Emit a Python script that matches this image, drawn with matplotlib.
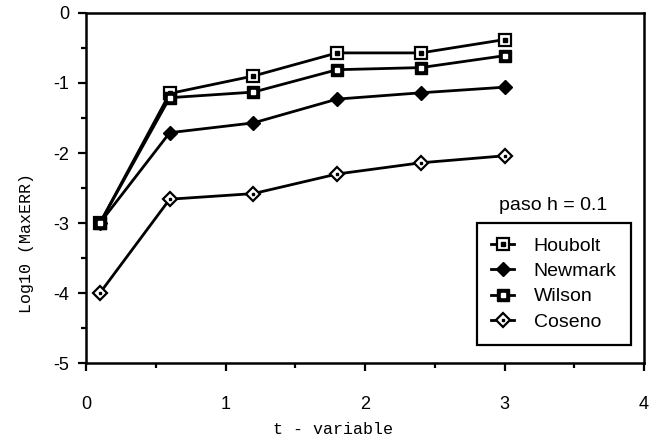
import matplotlib
matplotlib.use("Agg")
import matplotlib.pyplot as plt
from matplotlib.ticker import MultipleLocator

plt.rcParams["axes.unicode_minus"] = False

t = [0.1, 0.6, 1.2, 1.8, 2.4, 3.0]
houbolt = [-3.0, -1.15, -0.90, -0.57, -0.57, -0.38]
newmark = [-3.0, -1.71, -1.57, -1.23, -1.14, -1.06]
wilson = [-3.0, -1.21, -1.13, -0.81, -0.78, -0.61]
coseno = [-4.0, -2.66, -2.58, -2.30, -2.14, -2.04]
labels = ["Houbolt", "Newmark", "Wilson", "Coseno"]

sans = ["Liberation Sans", "DejaVu Sans"]
mono = ["Liberation Mono", "DejaVu Sans Mono"]

L, R, T, B = 86, 644, 13, 363
fig = plt.figure(figsize=(6.52, 4.44), dpi=100)
ax = fig.add_axes([L/652, 1-B/444, (R-L)/652, (B-T)/444])

lw = 2.0
h1, = ax.plot(t, houbolt, color="black", lw=lw, marker="s", ms=8, mfc="white", mec="black", mew=1.6)
h1d, = ax.plot(t, houbolt, ls="none", marker="s", ms=2.2, mfc="black", mec="black")
h2, = ax.plot(t, newmark, color="black", lw=lw, marker="D", ms=7, mfc="black", mec="black")
h3, = ax.plot(t, wilson, color="black", lw=lw, marker="s", ms=8, mfc="black", mec="black")
h3d, = ax.plot(t, wilson, ls="none", marker="s", ms=2.2, mfc="white", mec="white")
h4, = ax.plot(t, coseno, color="black", lw=lw, marker="D", ms=7, mfc="white", mec="black", mew=1.6)
h4d, = ax.plot(t, coseno, ls="none", marker="s", ms=1.8, mfc="black", mec="black")

ax.set_xlim(0, 4)
ax.set_ylim(-5, 0)
ax.xaxis.set_major_locator(MultipleLocator(1))
ax.xaxis.set_minor_locator(MultipleLocator(0.5))
ax.yaxis.set_major_locator(MultipleLocator(1))
ax.yaxis.set_minor_locator(MultipleLocator(0.5))
ax.tick_params(which="both", direction="out", width=1.6, top=False, right=False)
ax.tick_params(which="major", length=6, labelsize=13)
ax.tick_params(which="minor", length=3.5)
ax.tick_params(axis="y", which="major", pad=6)
ax.tick_params(axis="x", which="major", pad=18)
for lab in ax.get_xticklabels() + ax.get_yticklabels():
    lab.set_family(sans)
for sp in ax.spines.values():
    sp.set_linewidth(1.8)

ax.set_xlabel("t - variable", family=mono, fontsize=12)
ax.set_ylabel("Log10 (MaxERR)", family=mono, fontsize=12)
ax.xaxis.set_label_coords((333-L)/(R-L), -(422-B)/(B-T))
ax.yaxis.set_label_coords(-(L-34)/(R-L), (B-243)/(B-T))

leg = ax.legend([(h1, h1d), h2, (h3, h3d), (h4, h4d)], labels,
                loc="upper left", bbox_to_anchor=(477/652, 1-223/444),
                bbox_transform=fig.transFigure, frameon=True, fancybox=False,
                edgecolor="black", framealpha=1, prop={"family": sans, "size": 14},
                handlelength=1.2, handletextpad=1.0, borderpad=0.72, labelspacing=0.4,
                borderaxespad=0)
leg.get_frame().set_linewidth(1.6)

fig.text(553/652, 1-205/444, "paso h = 0.1", ha="center", va="center", family=sans, fontsize=14)

fig.savefig("out.png", dpi=100)
